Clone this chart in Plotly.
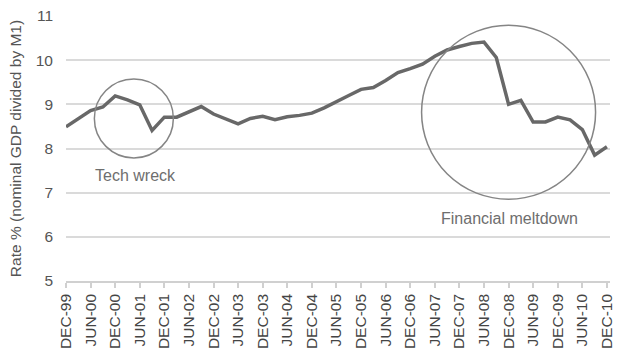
import plotly.graph_objects as go

quarters = [
    "DEC-99",
    "MAR-00", "JUN-00", "SEP-00", "DEC-00",
    "MAR-01", "JUN-01", "SEP-01", "DEC-01",
    "MAR-02", "JUN-02", "SEP-02", "DEC-02",
    "MAR-03", "JUN-03", "SEP-03", "DEC-03",
    "MAR-04", "JUN-04", "SEP-04", "DEC-04",
    "MAR-05", "JUN-05", "SEP-05", "DEC-05",
    "MAR-06", "JUN-06", "SEP-06", "DEC-06",
    "MAR-07", "JUN-07", "SEP-07", "DEC-07",
    "MAR-08", "JUN-08", "SEP-08", "DEC-08",
    "MAR-09", "JUN-09", "SEP-09", "DEC-09",
    "MAR-10", "JUN-10", "SEP-10", "DEC-10",
]
rate = [8.49, 8.67, 8.86, 8.94, 9.19, 9.10, 8.99, 8.41, 8.71, 8.71,
        8.83, 8.95, 8.78, 8.68, 8.56, 8.68, 8.73, 8.65, 8.72, 8.75,
        8.80, 8.92, 9.05, 9.20, 9.34, 9.38, 9.54, 9.72, 9.81, 9.91,
        10.09, 10.23, 10.31, 10.38, 10.41, 10.06, 9.00, 9.09, 8.60, 8.60,
        8.71, 8.65, 8.43, 7.85, 8.04]
tick_labels = quarters[::2]
y_ticks = [5, 6, 7, 8, 9, 10, 11]

FONT = "Liberation Sans, Arial, sans-serif"

fig = go.Figure()
fig.add_trace(go.Scatter(
    x=quarters, y=rate, mode="lines",
    line=dict(color="#686868", width=3.5),
    showlegend=False, hoverinfo="x+y",
))

# annotation circles (centre in data space, radius in pixels)
circles = [
    dict(cx=5.52, cy=8.68, r=39.5),
    dict(cx=36.0, cy=8.82, r=87),
]
for c in circles:
    fig.add_shape(
        type="circle", xref="x", yref="y",
        xsizemode="pixel", ysizemode="pixel",
        xanchor=c["cx"], yanchor=c["cy"],
        x0=-c["r"], x1=c["r"], y0=-c["r"], y1=c["r"],
        line=dict(color="#858585", width=1.5),
    )

labels = [
    dict(x=5.64, y=7.39, text="Tech wreck"),
    dict(x=36.05, y=6.41, text="Financial meltdown"),
]
for lb in labels:
    fig.add_annotation(
        x=lb["x"], y=lb["y"], xref="x", yref="y", text=lb["text"],
        showarrow=False, font=dict(family=FONT, size=16, color="#6e6e6e"),
    )

fig.update_layout(
    width=618, height=352,
    margin=dict(l=66, r=3, t=16, b=70),
    paper_bgcolor="white", plot_bgcolor="white",
    font=dict(family=FONT, size=15.5, color="#555555"),
)
fig.update_xaxes(
    type="category", range=[0, 44.25],
    tickmode="array", tickvals=tick_labels, ticktext=tick_labels,
    tickangle=-90, tickfont=dict(size=15.5, color="#444444"),
    showgrid=False, zeroline=False,
    showline=True, linecolor="#d0d0d0", linewidth=1.5,
    ticks="outside", ticklen=5, tickcolor="#d0d0d0", tickwidth=1.5,
)
fig.update_yaxes(
    range=[5, 11], tickvals=y_ticks,
    showgrid=True, gridcolor="#dadada", gridwidth=1.5,
    zeroline=False, showline=False,
    tickfont=dict(size=15.5, color="#555555"),
    ticklabelstandoff=12,
    title=dict(text="Rate % (nominal GDP divided by M1)",
               font=dict(size=15.5, color="#555555"), standoff=10),
)

fig.write_html("out.html")
